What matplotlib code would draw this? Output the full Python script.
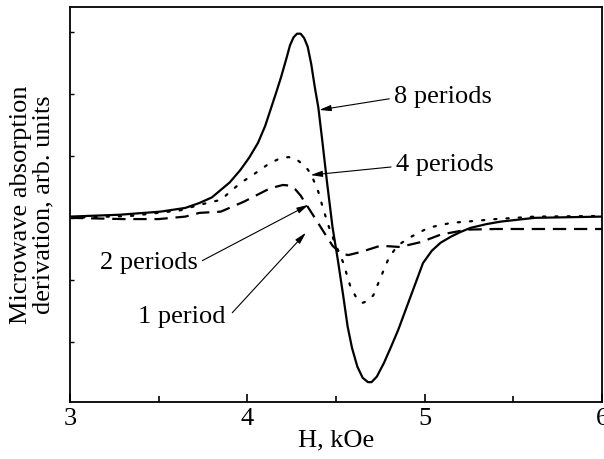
import matplotlib
matplotlib.use("Agg")
import matplotlib.pyplot as plt

plt.rcParams["font.family"] = ["Liberation Serif", "DejaVu Serif"]

# Field (kOe) and derivative signal (arb. units) for each multilayer
h_8 = [3.00, 3.28, 3.51, 3.65, 3.73, 3.80, 3.85, 3.90, 3.96, 4.01, 4.06, 4.10,
       4.13, 4.16, 4.19, 4.22, 4.24, 4.26, 4.28, 4.30, 4.32, 4.34, 4.36, 4.38,
       4.40, 4.42, 4.45, 4.48, 4.51, 4.54, 4.565, 4.59, 4.62, 4.65, 4.68,
       4.70, 4.73, 4.77, 4.81, 4.85, 4.92, 4.99, 5.04, 5.09, 5.15, 5.20, 5.26,
       5.35, 5.43, 5.62, 6.00]
s_8 = [0.02, 0.05, 0.10, 0.16, 0.24, 0.33, 0.45, 0.57, 0.77, 0.97, 1.21, 1.48,
       1.74, 2.00, 2.27, 2.57, 2.78, 2.91, 2.97, 2.97, 2.90, 2.76, 2.48, 2.11,
       1.78, 1.30, 0.55, -0.15, -0.68, -1.25, -1.75, -2.10, -2.40, -2.58,
       -2.65, -2.65, -2.56, -2.34, -2.08, -1.81, -1.27, -0.73, -0.53, -0.40,
       -0.30, -0.23, -0.16, -0.10, -0.06, 0.00, 0.02]

h_4 = [3.00, 3.34, 3.62, 3.73, 3.85, 3.96, 4.02, 4.07, 4.12, 4.17, 4.23, 4.27,
       4.30, 4.33, 4.36, 4.40, 4.43, 4.46, 4.49, 4.54, 4.58, 4.62, 4.65, 4.68,
       4.71, 4.75, 4.80, 4.85, 4.92, 5.02, 5.15, 5.24, 5.40, 5.62, 6.00]
s_4 = [0.00, 0.03, 0.12, 0.21, 0.29, 0.56, 0.67, 0.77, 0.87, 0.94, 0.98, 0.96,
       0.89, 0.82, 0.70, 0.42, 0.12, -0.15, -0.38, -0.72, -1.10, -1.32, -1.37,
       -1.34, -1.25, -0.97, -0.63, -0.44, -0.31, -0.16, -0.08, -0.06, -0.02,
       0.02, 0.03]

h_2 = [3.00, 3.30, 3.50, 3.65, 3.73, 3.85, 3.98, 4.11, 4.16, 4.20, 4.24, 4.27,
       4.30, 4.34, 4.38, 4.42, 4.48, 4.53, 4.57, 4.64, 4.75, 4.86, 4.98, 5.09,
       5.24, 5.40, 5.60, 6.00]
s_2 = [0.00, -0.02, -0.02, 0.02, 0.08, 0.10, 0.26, 0.45, 0.50, 0.53, 0.52,
       0.46, 0.36, 0.18, 0.00, -0.18, -0.45, -0.58, -0.60, -0.55, -0.45, -0.47,
       -0.39, -0.27, -0.19, -0.18, -0.18, -0.18]

fig = plt.figure(figsize=(6.04, 4.59), dpi=100)
ax = fig.add_axes([0.1159, 0.1242, 0.881, 0.8605])

ax.plot(h_8, s_8, color="black", lw=1.6, ls="-")
ax.plot(h_4, s_4, color="black", lw=1.6, ls=(0, (1, 4.5)), dash_capstyle="round")
ax.plot(h_2, s_2, color="black", lw=1.6, ls=(0, (6, 3.5)))

ax.set_xlim(3, 6)
ax.set_ylim(-2.97, 3.4)
ax.set_xticks([3, 4, 5, 6])
ax.set_xticks([3.5, 4.5, 5.5], minor=True)
ax.set_yticks([-2, -1, 0, 1, 2, 3])
ax.set_yticklabels([])
ax.tick_params(axis="x", which="major", direction="in", length=6, width=1.2,
               labelsize=19, pad=4)
ax.tick_params(axis="x", which="minor", direction="in", length=4, width=1.2)
ax.tick_params(axis="y", which="major", direction="in", length=3, width=1.0)
for sp in ax.spines.values():
    sp.set_linewidth(1.3)

ax.set_xlabel("H, kOe", fontsize=19, labelpad=0)
ax.set_ylabel("Microwave absorption\nderivation, arb. units", fontsize=19,
              linespacing=1.0, labelpad=8)

arrow = dict(arrowstyle="-|>,head_length=0.7,head_width=0.18", color="black",
             lw=0.8, shrinkA=0, shrinkB=0)

labels = [
    ("8 periods", (4.825, 1.95), "left", (4.80, 1.92), (4.405, 1.74)),
    ("4 periods", (4.84, 0.855), "left", (4.81, 0.82), (4.356, 0.69)),
    ("2 periods", (3.72, -0.73), "right", (3.746, -0.69), (4.345, 0.21)),
    ("1 period", (3.875, -1.60), "right", (3.915, -1.53), (4.33, -0.24)),
]
for text, pos, ha, tail, tip in labels:
    ax.text(pos[0], pos[1], text, fontsize=19, ha=ha, va="center")
    ax.annotate("", xy=tip, xytext=tail, arrowprops=arrow)

fig.savefig("out.png", dpi=100)
